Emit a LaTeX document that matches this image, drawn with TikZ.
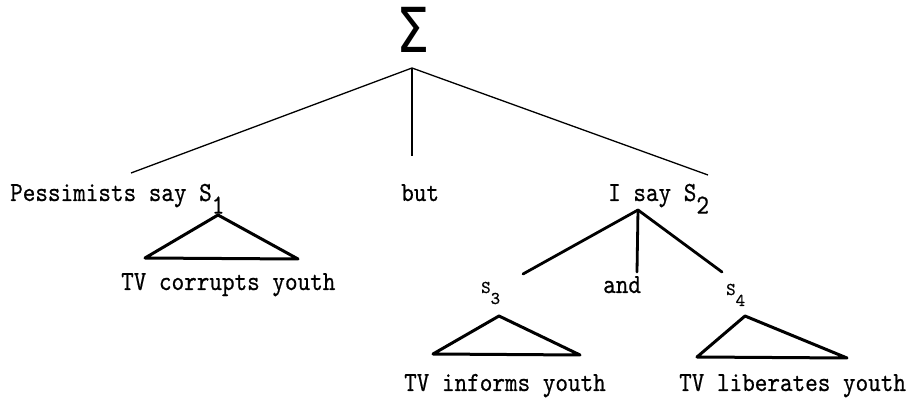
\documentclass[tikz,border=0pt]{standalone}
\usepackage{fontspec}
\usepackage{graphicx}
\newfontfamily\sigfont{DejaVu Sans}
\newfontfamily\typefont{lmmono10-regular.otf}[FakeBold=0.6]
\newcommand{\typ}[1]{\scalebox{1}[1.15]{#1}}
\newcommand{\lowsub}[1]{\raisebox{-11pt}{#1}}

\begin{document}
\begin{tikzpicture}[x=1pt,y=-1pt,
    txt/.style={font=\fontsize{24}{24}\selectfont\typefont,inner sep=0pt,anchor=base west},
    small/.style={font=\fontsize{18}{18}\selectfont\typefont,inner sep=0pt,anchor=base west},
    sig/.style={font=\fontsize{62}{62}\selectfont\sigfont,inner sep=0pt,anchor=base},
    thin/.style={line width=1.3pt},
    stem/.style={line width=2.4pt},
    branch/.style={line width=2.8pt,line cap=round},
    roof/.style={line width=3pt,line join=round,line cap=round}]
    \useasboundingbox (0,0) rectangle (914,398);

    \node[sig]   (sum)  at (413,53)  {\scalebox{0.85}[1]{Σ}};
    \node[txt]   (pess) at (10,201)  {\typ{Pessimists say S\lowsub{1}}};
    \node[txt]   (but)  at (401,201) {\typ{but}};
    \node[txt]   (isay) at (608,201) {\typ{I say S\lowsub{2}}};
    \node[txt]   (corr) at (121,290) {\typ{TV corrupts youth}};
    \node[small] (s3)   at (481,293) {S\lowsub{3}};
    \node[txt]   (and)  at (603,293) {\typ{and}};
    \node[small] (s4)   at (726,295) {S\lowsub{4}};
    \node[txt]   (inf)  at (404,391) {\typ{TV informs youth}};
    \node[txt]   (lib)  at (679,391) {\typ{TV liberates youth}};

    \coordinate (root)  at (412,68);
    \coordinate (pessT) at (131,173);
    \coordinate (butT)  at (412,156);
    \coordinate (isayT) at (708,175);
    \coordinate (isayB) at (638,210);
    \coordinate (s3T)   at (523,274);
    \coordinate (andT)  at (637,272);
    \coordinate (s4T)   at (722,272);

    \draw[thin] (root) -- (pessT);
    \draw[stem] (root) -- (butT);
    \draw[thin] (root) -- (isayT);
    \draw[branch] (isayB) -- (s3T);
    \draw[branch] (isayB) -- (andT);
    \draw[branch] (isayB) -- (s4T);

    \draw[roof] (218,215) -- (145,258) -- (298,259) -- cycle;
    \draw[roof] (499,316) -- (433,354) -- (580,355) -- cycle;
    \draw[roof] (745,316) -- (697,357) -- (847,358) -- cycle;
\end{tikzpicture}
\end{document}
